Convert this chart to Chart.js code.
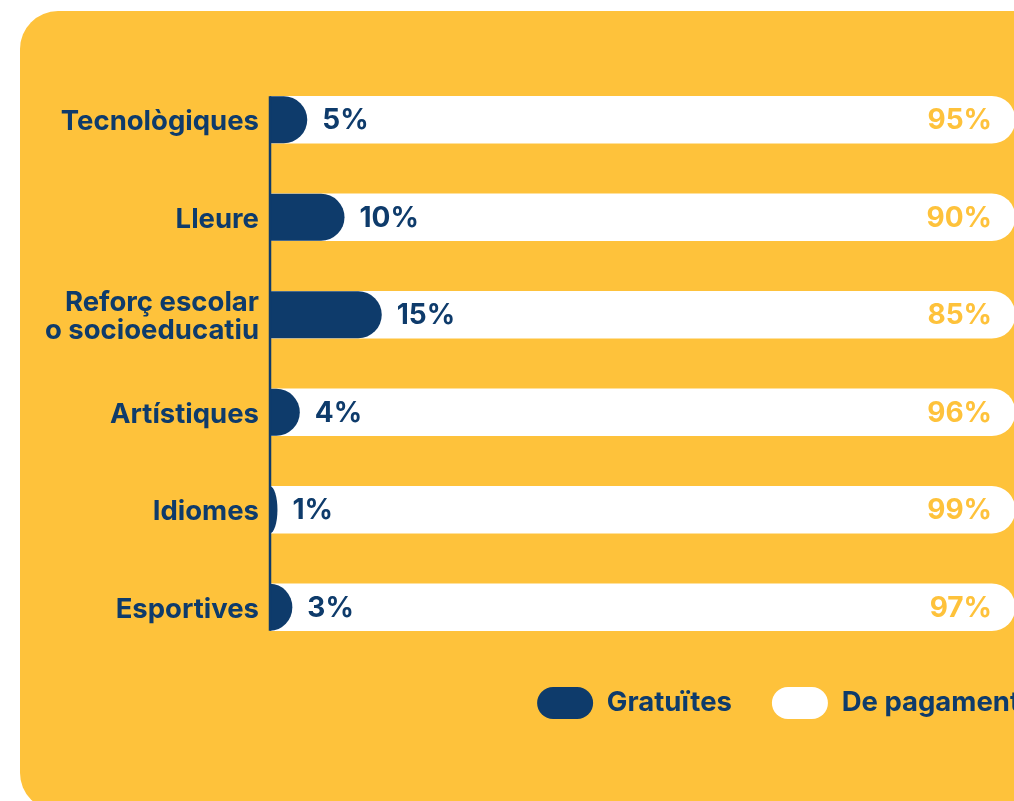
<!DOCTYPE html>
<html>
<head>
<meta charset="utf-8">
<script src="https://cdn.jsdelivr.net/npm/chart.js@4"></script>
<style>
  html, body { margin: 0; padding: 0; background: #ffffff; overflow: hidden; width: 1014px; height: 801px; }
  .targeta {
    position: absolute; left: 20px; top: 11px;
    width: 1070px; height: 800px;
    background: #fec23b; border-radius: 38px; overflow: hidden;
  }
  .targeta canvas { position: absolute; left: 0; top: 0; }
</style>
</head>
<body>
<div class="targeta"><canvas id="graficActivitats" width="1040" height="790"></canvas></div>
<script>
const categories = ['Tecnològiques', 'Lleure', ['Reforç escolar', 'o socioeducatiu'], 'Artístiques', 'Idiomes', 'Esportives'];
const gratuites = [5, 10, 15, 4, 1, 3];
const pagament = [95, 90, 85, 96, 99, 97];

const BLAU = '#0e3b6b';
const GROC = '#fec23b';
const BLANC = '#ffffff';

Chart.defaults.font.family = 'Inter, "Noto Sans", sans-serif';
Chart.defaults.font.weight = 'bold';

// barres blaves amb l'extrem arrodonit (semicercle o mitja el·lipse)
function dibuixaBarra(ctx, bar) {
    const x0 = bar.base, x1 = bar.x, yc = bar.y, hh = bar.height / 2;
    const w = x1 - x0;
    ctx.beginPath();
    if (w >= hh) {
        ctx.moveTo(x0, yc - hh);
        ctx.lineTo(x1 - hh, yc - hh);
        ctx.arc(x1 - hh, yc, hh, -Math.PI / 2, Math.PI / 2);
        ctx.lineTo(x0, yc + hh);
    } else {
        ctx.moveTo(x0, yc - hh);
        ctx.ellipse(x0, yc, w, hh, 0, -Math.PI / 2, Math.PI / 2);
    }
    ctx.closePath();
    ctx.fill();
}

const etiquetes = {
    id: 'etiquetes',
    afterLayout(chart) {
        // pujar una mica la llegenda
        chart.legend.top -= 9;
        chart.legend.bottom -= 9;
    },
    beforeDatasetDraw(chart, args) {
        if (args.index === 0) return false;
    },
    afterDatasetsDraw(chart) {
        const ctx = chart.ctx;
        const metaG = chart.getDatasetMeta(0);
        const metaP = chart.getDatasetMeta(1);
        ctx.save();

        ctx.fillStyle = BLAU;
        metaG.data.forEach(bar => dibuixaBarra(ctx, bar));

        ctx.font = 'bold 28px Inter, "Noto Sans", sans-serif';
        ctx.textBaseline = 'middle';
        metaG.data.forEach((bar, i) => {
            ctx.fillStyle = BLAU;
            ctx.textAlign = 'left';
            ctx.fillText(gratuites[i] + '%', bar.x + 15, bar.y + 1);
        });
        metaP.data.forEach((bar, i) => {
            ctx.fillStyle = GROC;
            ctx.textAlign = 'right';
            ctx.fillText(pagament[i] + '%', bar.x - 23, bar.y + 1);
        });

        // eix vertical només de la primera a l'última barra
        const primera = metaP.data[0];
        const darrera = metaP.data[metaP.data.length - 1];
        const x0 = chart.scales.x.getPixelForValue(0);
        ctx.strokeStyle = BLAU;
        ctx.lineWidth = 2.5;
        ctx.beginPath();
        ctx.moveTo(x0, primera.y - primera.height / 2);
        ctx.lineTo(x0, darrera.y + darrera.height / 2);
        ctx.stroke();
        ctx.restore();
    }
};

const ctx = document.getElementById('graficActivitats').getContext('2d');
new Chart(ctx, {
    type: 'bar',
    data: {
        labels: categories,
        datasets: [
            {
                label: 'Gratuïtes',
                data: gratuites,
                backgroundColor: BLAU,
                barThickness: 47,
                grouped: false,
                order: 0
            },
            {
                label: 'De pagament',
                data: pagament.map((p, i) => gratuites[i] + p),
                backgroundColor: BLANC,
                borderRadius: 24,
                borderSkipped: 'start',
                barThickness: 47,
                grouped: false,
                order: 1
            }
        ]
    },
    options: {
        indexAxis: 'y',
        responsive: false,
        animation: false,
        layout: { padding: { top: 60, right: 0, bottom: 63, left: 0 } },
        plugins: {
            legend: {
                position: 'bottom',
                align: 'end',
                labels: {
                    color: BLAU,
                    font: { size: 27.5, weight: 'bold' },
                    boxWidth: 56,
                    boxHeight: 32,
                    useBorderRadius: true,
                    borderRadius: 16,
                    padding: 40
                }
            },
            tooltip: { enabled: false }
        },
        scales: {
            x: { min: 0, max: 100, display: false },
            y: {
                grid: { display: false, drawTicks: false },
                border: { display: false },
                ticks: {
                    color: BLAU,
                    font: { size: 27.5, weight: 'bold', lineHeight: 1.0 },
                    padding: 11,
                    labelOffset: 2
                },
                afterFit(scale) { scale.width = 250; }
            },
            // eix buit a la dreta: deixa espai perquè la llegenda arribi més enllà de les barres
            yDreta: {
                type: 'category',
                position: 'right',
                grid: { display: false, drawTicks: false },
                border: { display: false },
                ticks: { display: false },
                afterFit(scale) { scale.width = 45; }
            }
        }
    },
    plugins: [etiquetes]
});
</script>
</body>
</html>
